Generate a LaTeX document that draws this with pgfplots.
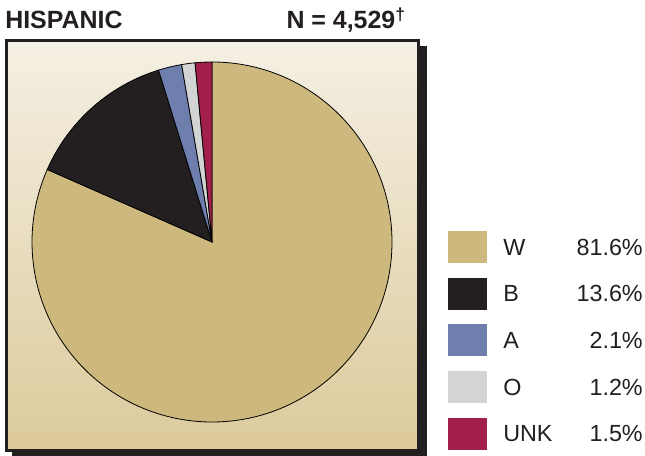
\documentclass[border=0pt]{standalone}
\usepackage{pgfplots}
\pgfplotsset{compat=1.18}
\usepackage{pgfplotstable}
\usepackage{fontspec}
\setmainfont{Liberation Sans}

\definecolor{inkdark}{HTML}{231F20}
\definecolor{sliceW}{HTML}{CDB87D}
\definecolor{sliceB}{HTML}{231F20}
\definecolor{sliceA}{HTML}{6E7FAE}
\definecolor{sliceO}{HTML}{D3D4D6}
\definecolor{sliceUNK}{HTML}{A11F49}
\definecolor{bgtop}{HTML}{F5F0E4}
\definecolor{bgbottom}{HTML}{DCCA9B}

% share of each group, percent
\pgfplotstableread{
label value
W     81.6
B     13.6
A     2.1
O     1.2
UNK   1.5
}\piedata

\begin{document}
\begin{tikzpicture}
\begin{axis}[
    name=ax,
    x=0.75pt, y=0.75pt,
    xmin=0, xmax=645, ymin=0, ymax=456,
    hide axis, clip=false,
]
% shadow and framed box
\fill[inkdark] (axis cs:12,0) rectangle (axis cs:427,410);
\shade[top color=bgtop, bottom color=bgbottom]
    (axis cs:6.5,5.5) rectangle (axis cs:418.5,415.5);
\draw[inkdark, line width=2.25pt]
    (axis cs:6.5,5.5) rectangle (axis cs:418.5,415.5);

% titles
\node[anchor=base west, inner sep=0pt, text=inkdark, font=\fontsize{18.7}{21}\selectfont\bfseries]
    at (axis cs:5,427) {HISPANIC};
\node[anchor=base east, inner sep=0pt, text=inkdark, font=\fontsize{18.7}{21}\selectfont\bfseries]
    at (axis cs:406,427) {N = 4,529\textsuperscript{†}};

% slices and legend
\pgfplotstablegetrowsof{\piedata}
\pgfmathtruncatemacro\lastrow{\pgfplotsretval-1}
\xdef\angstart{90}
\pgfplotsforeachungrouped \i in {0,...,\lastrow}{
    \pgfplotstablegetelem{\i}{value}\of\piedata \let\v=\pgfplotsretval
    \pgfplotstablegetelem{\i}{label}\of\piedata \let\lab=\pgfplotsretval
    \pgfmathsetmacro\angend{\angstart-3.6*\v}
    \pgfmathsetmacro\ly{209-46.75*\i}
    \pgfmathsetmacro\lyb{\ly-16}
    \pgfmathsetmacro\lyt{\ly+16}
    \edef\cmd{%
        \noexpand\filldraw[fill=slice\lab, draw=black, line width=0.6pt]
            (axis cs:212,214) -- ++(\angstart:135pt)
            arc[start angle=\angstart, end angle=\angend, radius=135pt] -- cycle;
        \noexpand\fill[slice\lab] (axis cs:448,\lyb) rectangle (axis cs:487,\lyt);
        \noexpand\node[anchor=west, inner sep=0pt, text=inkdark,
            font=\noexpand\fontsize{17.5}{20}\noexpand\selectfont]
            at (axis cs:503,\ly) {\lab};
        \noexpand\node[anchor=east, inner sep=0pt, text=inkdark,
            font=\noexpand\fontsize{17.5}{20}\noexpand\selectfont]
            at (axis cs:643,\ly) {\v\noexpand\%};
    }
    \cmd
    \xdef\angstart{\angend}
}
\end{axis}
\pgfresetboundingbox
\path (ax.south west) rectangle (ax.north east);
\end{tikzpicture}
\end{document}
